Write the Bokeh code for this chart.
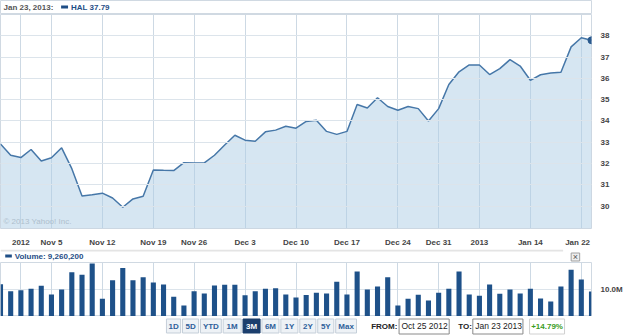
from bokeh.plotting import figure
from bokeh.layouts import column
from bokeh.models import Range1d, FixedTicker, Grid, Label, PrintfTickFormatter
from bokeh.embed import file_html
from bokeh.resources import INLINE
from bokeh.core.properties import value

FONT = "Liberation Sans"

# ---------------- data ----------------
dates = [
    "2012-10-25", "2012-10-26", "2012-10-31", "2012-11-01", "2012-11-02",
    "2012-11-05", "2012-11-06", "2012-11-07", "2012-11-08", "2012-11-09",
    "2012-11-12", "2012-11-13", "2012-11-14", "2012-11-15", "2012-11-16",
    "2012-11-19", "2012-11-20", "2012-11-21", "2012-11-23",
    "2012-11-26", "2012-11-27", "2012-11-28", "2012-11-29", "2012-11-30",
    "2012-12-03", "2012-12-04", "2012-12-05", "2012-12-06", "2012-12-07",
    "2012-12-10", "2012-12-11", "2012-12-12", "2012-12-13", "2012-12-14",
    "2012-12-17", "2012-12-18", "2012-12-19", "2012-12-20", "2012-12-21",
    "2012-12-24", "2012-12-26", "2012-12-27", "2012-12-28",
    "2012-12-31", "2013-01-02", "2013-01-03", "2013-01-04",
    "2013-01-07", "2013-01-08", "2013-01-09", "2013-01-10", "2013-01-11",
    "2013-01-14", "2013-01-15", "2013-01-16", "2013-01-17", "2013-01-18",
    "2013-01-22", "2013-01-23",
]
close = [
    32.92, 32.39, 32.28, 32.66, 32.12,
    32.27, 32.74, 31.76, 30.48, 30.53,
    30.61, 30.38, 29.95, 30.34, 30.46,
    31.70, 31.68, 31.67, 32.04,
    32.03, 32.03, 32.39, 32.87, 33.33,
    33.10, 33.05, 33.49, 33.57, 33.75,
    33.66, 33.98, 34.03, 33.51, 33.37,
    33.51, 34.77, 34.61, 35.09, 34.68,
    34.50, 34.68, 34.58, 34.00,
    34.58, 35.71, 36.31, 36.63,
    36.63, 36.18, 36.46, 36.88, 36.58,
    35.91, 36.17, 36.25, 36.29, 37.48,
    37.91, 37.79,
]
volume_m = [
    11.96, 9.38, 9.75, 10.25, 11.36,
    8.15, 10.00, 16.42, 15.43, 19.60,
    6.54, 13.46, 18.00, 13.46, 14.57,
    12.59, 11.85, 7.28, 4.07,
    9.38, 8.52, 11.48, 11.73, 11.73,
    7.90, 9.38, 10.25, 10.49, 8.15,
    7.04, 8.00, 8.77, 8.52, 12.84,
    8.15, 16.67, 10.00, 11.11, 14.57,
    4.07, 6.54, 8.02, 5.93,
    8.77, 10.25, 16.67, 8.15,
    7.65, 11.85, 8.40, 10.00, 8.52,
    10.25, 6.67, 5.56, 11.11, 17.28,
    13.70, 9.26,
]
grid_dates = ["2012-10-31", "2012-11-05", "2012-11-12", "2012-11-19", "2012-11-26",
              "2012-12-03", "2012-12-10", "2012-12-17", "2012-12-24", "2012-12-31",
              "2013-01-07", "2013-01-14", "2013-01-22"]
tick_labels = ["2012", "Nov 5", "Nov 12", "Nov 19", "Nov 26", "Dec 3", "Dec 10",
               "Dec 17", "Dec 24", "Dec 31", "2013", "Jan 14", "Jan 22"]
price_ticks = [30, 31, 32, 33, 34, 35, 36, 37, 38]
volume_ticks = [10]
symbol = "HAL"
header_date = "Jan 23, 2013"
last_volume = 9260200
range_buttons = ["1D", "5D", "YTD", "1M", "3M", "6M", "1Y", "2Y", "5Y", "Max"]
selected_button = "3M"
from_text = "Oct 25 2012"
to_text = "Jan 23 2013"
change_pct = (close[-1] / close[0] - 1) * 100

# ---------------- layout constants ----------------
FRAME_W = 595
RIGHT_W = 30
TOTAL_W = FRAME_W + RIGHT_W
N = len(dates)
idx = list(range(N))
px_per = FRAME_W / (N - 1)
grid_idx = [dates.index(d) for d in grid_dates]
label_pos = []
for g, lab in zip(grid_idx, tick_labels):
    half = (len(lab) * 4.5 + 1) / 2 / px_per
    label_pos.append(round(min(max(g, half), (N - 1) - half), 3))

BLUE = "#1f4e86"
GRID_V = "#cdd9e4"
GRID_H = "#dce4eb"
OUTLINE = "#d0d9e2"
AXIS_TXT = "#444444"

xr = Range1d(0, N - 1)
Y0, Y1 = 28.95, 39.0


def bare(width, height, xrange, yrange, **kw):
    f = figure(width=width, height=height, x_range=xrange, y_range=yrange,
               x_axis_type=None, y_axis_type=None, toolbar_location=None,
               output_backend="svg", min_border=0, **kw)
    f.background_fill_color = "white"
    f.border_fill_color = "white"
    f.outline_line_color = None
    return f


def txt(f, x, y, s, color, size="8px", style="bold", align="left"):
    f.text(x=[x], y=[y], text=[s], text_font=value(FONT), text_font_size=size,
           text_font_style=style, text_color=color, text_align=align,
           text_baseline="middle")


# ---------------- header ----------------
h = bare(TOTAL_W, 14, Range1d(0, FRAME_W), Range1d(0, 14), min_border_right=RIGHT_W)
h.outline_line_color = OUTLINE
txt(h, 3, 7, header_date + ":", "#555555")
h.quad(left=[61], right=[68], bottom=[6], top=[9], fill_color=BLUE, line_color=None)
txt(h, 71, 7, f"{symbol} {close[-1]:.2f}", BLUE)

# ---------------- price chart ----------------
p = figure(width=TOTAL_W, height=235, x_range=xr, y_range=Range1d(Y0, Y1),
           y_axis_location="right", toolbar_location=None, output_backend="svg",
           min_border_left=0, min_border_right=RIGHT_W, min_border_top=0,
           min_border_bottom=13)
p.background_fill_color = "white"
p.border_fill_color = "white"
p.outline_line_color = OUTLINE

p.xaxis.ticker = FixedTicker(ticks=label_pos)
p.xaxis.major_label_overrides = {pos: lab for pos, lab in zip(label_pos, tick_labels)}
p.yaxis.ticker = FixedTicker(ticks=price_ticks)
for ax in (p.xaxis[0], p.yaxis[0]):
    ax.axis_line_color = None
    ax.major_tick_line_color = None
    ax.minor_tick_line_color = None
    ax.major_label_standoff = 3
    ax.major_label_text_font = FONT
    ax.major_label_text_font_size = "8px"
    ax.major_label_text_font_style = "bold"
    ax.major_label_text_color = AXIS_TXT

p.xgrid.ticker = FixedTicker(ticks=grid_idx)
p.xgrid.grid_line_color = GRID_V
p.ygrid.grid_line_color = GRID_H
p.ygrid.level = "annotation"

p.varea(x=idx, y1=Y0, y2=close, fill_color="#adcde5", fill_alpha=0.5)
p.line(idx, close, line_color="#4677a8", line_width=1.5)
p.scatter([idx[-1]], [close[-1]], size=7, color="#2a5a8e")

p.add_layout(Label(x=3, y=3, x_units="screen", y_units="screen",
                   text="\u00a9 2013 Yahoo! Inc.", text_font=FONT,
                   text_font_size="8px", text_color="#aebfcd"))

# ---------------- volume header ----------------
vh = bare(TOTAL_W, 13, Range1d(0, TOTAL_W), Range1d(0, 13))
vh.quad(left=[0], right=[FRAME_W], bottom=[11], top=[13], fill_color="#e4e4e4", line_color=None)
vh.quad(left=[5], right=[12], bottom=[5], top=[8], fill_color=BLUE, line_color=None)
txt(vh, 15, 6.5, f"Volume: {last_volume:,}", BLUE)
vh.quad(left=[603.5], right=[612.5], bottom=[1.5], top=[9.5], fill_color="#eeeeee", line_color="#a0a0a0")
txt(vh, 608, 5.5, "\u00d7", "#555555", size="9px", style="normal", align="center")

# ---------------- volume chart ----------------
v = figure(width=TOTAL_W, height=54, x_range=xr, y_range=Range1d(0, 20),
           x_axis_type=None, y_axis_location="right", toolbar_location=None,
           output_backend="svg", min_border_left=0, min_border_right=RIGHT_W,
           min_border_top=0, min_border_bottom=0)
v.background_fill_color = "white"
v.border_fill_color = "white"
v.outline_line_color = OUTLINE
v.yaxis.ticker = FixedTicker(ticks=volume_ticks)
v.yaxis.formatter = PrintfTickFormatter(format="%.1fM")
ax = v.yaxis[0]
ax.axis_line_color = None
ax.major_tick_line_color = None
ax.minor_tick_line_color = None
ax.major_label_standoff = 3
ax.major_label_text_font = FONT
ax.major_label_text_font_size = "8px"
ax.major_label_text_font_style = "bold"
ax.major_label_text_color = AXIS_TXT
v.ygrid.grid_line_color = GRID_H
v.add_layout(Grid(dimension=0, ticker=FixedTicker(ticks=grid_idx), grid_line_color=GRID_V))
v.vbar(x=idx, top=volume_m, width=0.5, fill_color="#1e5189", line_color=None)

# ---------------- controls ----------------
c = bare(TOTAL_W, 19, Range1d(0, TOTAL_W), Range1d(0, 19))
btn_left = 175
btn_w = {"1D": 16, "5D": 18, "YTD": 23, "1M": 20, "3M": 19, "6M": 19, "1Y": 19, "2Y": 18, "5Y": 18, "Max": 23}
for b in range_buttons:
    w = btn_w[b]
    sel = b == selected_button
    c.quad(left=[btn_left + 0.5], right=[btn_left + w - 0.5], bottom=[2.5], top=[16.5],
           fill_color="#1b3e6d" if sel else "#eef2f6",
           line_color="#1b3e6d" if sel else "#c5cfd9")
    txt(c, btn_left + w / 2, 9.5, b, "white" if sel else "#2f609a", align="center")
    btn_left += w + 1

txt(c, 392, 9.5, "FROM:", "#222222")
c.quad(left=[421.5], right=[474.5], bottom=[1.5], top=[16.5], fill_color="white", line_color="#8a8a8a")
txt(c, 424, 9.5, from_text, "#222222", size="8.5px", style="normal")
txt(c, 484, 9.5, "TO:", "#222222")
c.quad(left=[499.5], right=[552.5], bottom=[1.5], top=[16.5], fill_color="white", line_color="#8a8a8a")
txt(c, 502, 9.5, to_text, "#222222", size="8.5px", style="normal")
c.quad(left=[559.5], right=[596.5], bottom=[1.5], top=[16.5], fill_color="white", line_color="#d0d0d0")
txt(c, 578, 9.5, f"{change_pct:+.2f}%", "#3a9d23", align="center")

layout = column(h, p, vh, v, c, spacing=0)
open("out.html", "w").write(file_html(layout, INLINE))
